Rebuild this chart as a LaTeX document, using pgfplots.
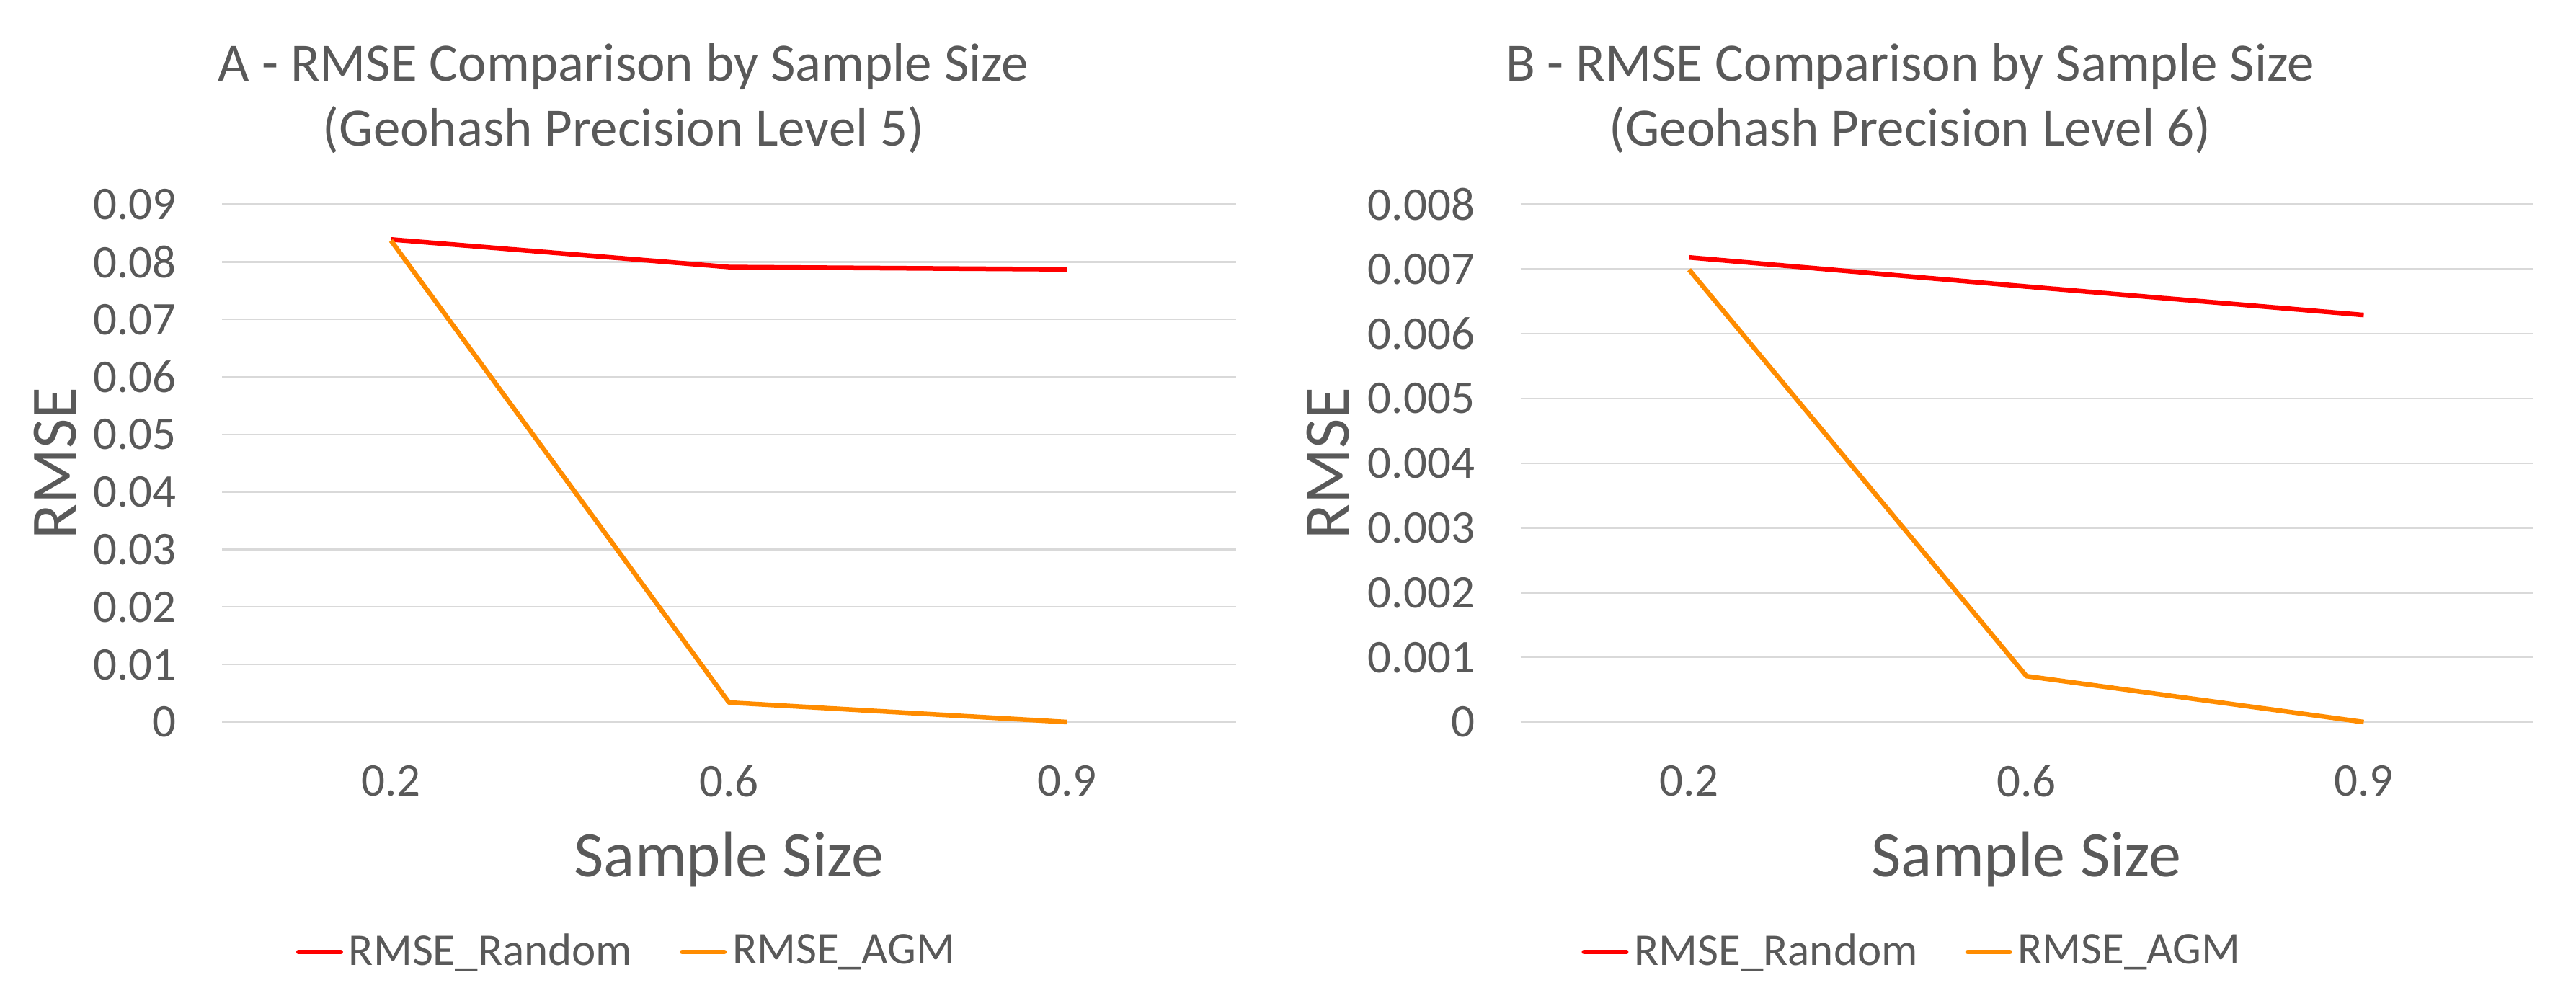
\documentclass[border=0pt]{standalone}
\usepackage{pgfplots}
\pgfplotsset{compat=1.18}
\usepackage{fontspec}
\setmainfont{Carlito}

\definecolor{txt}{HTML}{595959}
\definecolor{gridc}{HTML}{D9D9D9}
\definecolor{rmsered}{HTML}{FF0000}
\definecolor{rmseorg}{HTML}{FF8C00}

\tikzset{titlefont/.style={font=\fontsize{15}{18}\selectfont, text=txt, inner sep=0pt, anchor=base}}
\newcommand{\entrygap}{\rule{11.6pt}{0pt}}

\pgfplotsset{
  rmsechart/.style={
    scale only axis,
    height=143.7pt,
    xmin=-0.5, xmax=2.5,
    xtick={0,1,2}, xticklabels={0.2,0.6,0.9},
    ymin=0,
    scaled y ticks=false,
    clip=false,
    axis line style={draw=none},
    tick style={draw=none},
    major tick length=0pt,
    ymajorgrids,
    grid style={gridc, line width=0.45pt},
    tick label style={font=\fontsize{13}{15}\selectfont, text=txt, inner sep=0pt},
    xticklabel style={anchor=north, yshift=-11.8pt},
    yticklabel style={anchor=east, xshift=-12.5pt},
    xlabel={Sample Size},
    ylabel={RMSE},
    every axis x label/.style={at={([yshift=-38pt]axis description cs:0.5,0)}, anchor=center,
                               font=\fontsize{18}{21}\selectfont, text=txt, inner sep=0pt},
    every axis title/.style={titlefont, yshift=34.3pt},
    legend columns=2,
    legend style={draw=none, fill=none, anchor=center, yshift=-63.8pt,
                  font=\fontsize{12.6}{15}\selectfont, text=txt, inner sep=0pt,
                  nodes={inner sep=0pt}, /tikz/column sep=1.6pt},
    legend image code/.code={\draw[#1, line width=1.3pt, line cap=round] (0.65pt,0pt) -- (12.35pt,0pt);},
    every axis plot/.append style={line width=1.3pt, line join=round},
  },
  ylab/.style={
    every axis y label/.style={at={([xshift=-#1]axis description cs:0,0.5)}, rotate=90, anchor=center,
                               font=\fontsize{18}{21}\selectfont, text=txt, inner sep=0pt},
  },
}

\begin{document}
\begin{tikzpicture}
\path[use as bounding box] (0pt,0pt) rectangle (714.8pt,279pt);

% panel A: geohash level 5
\begin{axis}[rmsechart, ylab=46.3pt,
    at={(61.6pt,78.6pt)}, anchor=south west,
    width=281.4pt,
    ymax=0.09,
    ytick={0,0.01,0.02,0.03,0.04,0.05,0.06,0.07,0.08,0.09},
    yticklabels={0,0.01,0.02,0.03,0.04,0.05,0.06,0.07,0.08,0.09},
    title={A - RMSE Comparison by Sample Size},
    title style={at={(axis description cs:0.396,1)}},
    legend style={at={(0.398,0)}},
]
\addplot[rmsered] coordinates {(0,0.0839) (1,0.0791) (2,0.0787)};
\addlegendentry{RMSE\_Random\entrygap}
\addplot[rmseorg] coordinates {(0,0.0837) (1,0.0034) (2,0.0)};
\addlegendentry{RMSE\_AGM}
\node[titlefont] at ([yshift=16.2pt]axis description cs:0.396,1) {(Geohash Precision Level 5)};
\end{axis}

% panel B: geohash level 6
\begin{axis}[rmsechart, ylab=53.3pt,
    at={(421.9pt,78.6pt)}, anchor=south west,
    width=280.8pt,
    ymax=0.008,
    ytick={0,0.001,0.002,0.003,0.004,0.005,0.006,0.007,0.008},
    yticklabels={0,0.001,0.002,0.003,0.004,0.005,0.006,0.007,0.008},
    title={B - RMSE Comparison by Sample Size},
    title style={at={(axis description cs:0.385,1)}},
    legend style={at={(0.386,0)}},
]
\addplot[rmsered] coordinates {(0,0.00718) (1,0.00673) (2,0.00629)};
\addlegendentry{RMSE\_Random\entrygap}
\addplot[rmseorg] coordinates {(0,0.00699) (1,0.00071) (2,0.0)};
\addlegendentry{RMSE\_AGM}
\node[titlefont] at ([yshift=16.2pt]axis description cs:0.385,1) {(Geohash Precision Level 6)};
\end{axis}
\end{tikzpicture}
\end{document}
